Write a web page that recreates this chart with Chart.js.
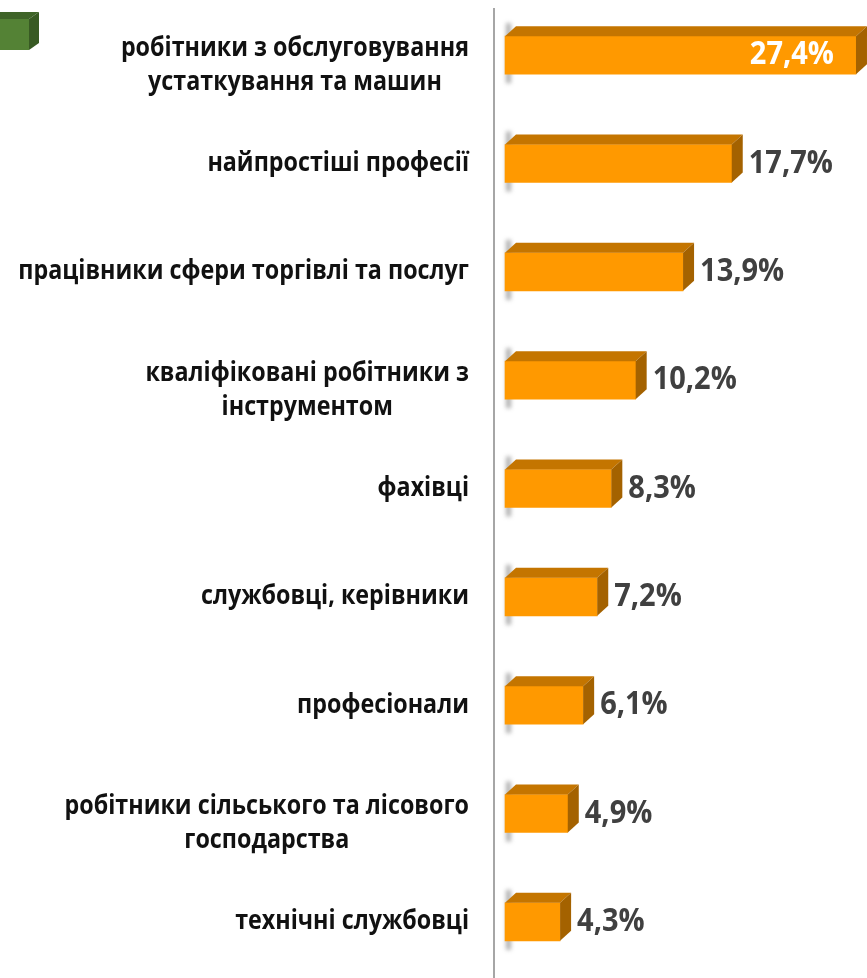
<!DOCTYPE html>
<html>
<head>
<meta charset="utf-8">
<script src="https://cdn.jsdelivr.net/npm/chart.js@4.4.1/dist/chart.umd.min.js"></script>
<style>
  html, body { margin: 0; padding: 0; background: #fff; }
  #wrap { width: 867px; height: 978px; position: relative; }
</style>
</head>
<body>
<div id="wrap"><canvas id="jobsChart"></canvas></div>
<script>
// categories (multi-line where the original wraps)
const categories = [
  ['робітники з обслуговування', 'устаткування та машин'],
  'найпростіші професії',
  'працівники сфери торгівлі та послуг',
  ['кваліфіковані робітники з', 'інструментом'],
  'фахівці',
  'службовці, керівники',
  'професіонали',
  ['робітники сільського та лісового', 'господарства'],
  'технічні службовці'
];
const shares = [27.4, 17.7, 13.9, 10.2, 8.3, 7.2, 6.1, 4.9, 4.3];

const FRONT = '#FF9900';
const TOP = '#C47500';
const SIDE = '#A46200';
const DX = 11, DY = 10;

const fmt = v => v.toFixed(1).replace('.', ',') + '%';

// text drawn a little taller than wide, as in the original picture
function tallText(ctx, txt, x, y, sy) {
  ctx.save();
  ctx.translate(x, y);
  ctx.scale(1, sy);
  ctx.fillText(txt, 0, 0);
  ctx.restore();
}

const bar3d = {
  id: 'bar3d',
  beforeDatasetsDraw(chart) {
    const ctx = chart.ctx;
    const meta = chart.getDatasetMeta(0);
    ctx.save();
    ctx.filter = 'blur(2px)';
    ctx.fillStyle = 'rgba(110,110,110,0.55)';
    meta.data.forEach(bar => {
      const p = bar.getProps(['base', 'y', 'height'], true);
      const top = p.y - p.height / 2;
      ctx.fillRect(p.base + 1, top - DY - 3, 5, p.height + DY + 12);
    });
    ctx.restore();
  },
  afterDatasetsDraw(chart) {
    const ctx = chart.ctx;
    const meta = chart.getDatasetMeta(0);
    ctx.save();
    meta.data.forEach(bar => {
      const p = bar.getProps(['x', 'base', 'y', 'height'], true);
      const top = p.y - p.height / 2, bottom = p.y + p.height / 2;
      ctx.fillStyle = TOP;
      ctx.beginPath();
      ctx.moveTo(p.base, top);
      ctx.lineTo(p.base + DX, top - DY);
      ctx.lineTo(p.x + DX, top - DY);
      ctx.lineTo(p.x, top);
      ctx.closePath();
      ctx.fill();
      ctx.fillStyle = SIDE;
      ctx.beginPath();
      ctx.moveTo(p.x, top);
      ctx.lineTo(p.x + DX, top - DY);
      ctx.lineTo(p.x + DX, bottom - DY);
      ctx.lineTo(p.x, bottom);
      ctx.closePath();
      ctx.fill();
    });
    ctx.restore();
  },
  afterDraw(chart) {
    const ctx = chart.ctx;
    const area = chart.chartArea;
    const yScale = chart.scales.y;
    const meta = chart.getDatasetMeta(0);
    ctx.save();

    // vertical axis line
    ctx.strokeStyle = '#A6A6A6';
    ctx.lineWidth = 2;
    ctx.beginPath();
    ctx.moveTo(area.left, 8);
    ctx.lineTo(area.left, chart.height);
    ctx.stroke();

    // category labels, right block, lines centered to each other
    ctx.font = 'bold 23.3px "Open Sans"';
    ctx.fillStyle = '#111111';
    ctx.textBaseline = 'middle';
    ctx.textAlign = 'center';
    const labelRight = area.left - 25;
    categories.forEach((cat, i) => {
      const lines = Array.isArray(cat) ? cat : [cat];
      const w = Math.max(...lines.map(l => ctx.measureText(l).width));
      const cx = labelRight - w / 2;
      const yc = yScale.getPixelForValue(i);
      const y0 = lines.length > 1 ? yc - 7 : yc;
      lines.forEach((l, k) => tallText(ctx, l, cx, y0 + k * 34, 1.15));
    });

    // value labels
    ctx.font = 'bold 29px "Open Sans"';
    meta.data.forEach((bar, i) => {
      const p = bar.getProps(['x', 'y'], true);
      if (i === 0) {
        ctx.fillStyle = '#FFFFFF';
        ctx.textAlign = 'right';
        tallText(ctx, fmt(shares[i]), p.x - 22, p.y, 1.1);
      } else {
        ctx.fillStyle = '#404040';
        ctx.textAlign = 'left';
        tallText(ctx, fmt(shares[i]), p.x + DX + 6, p.y, 1.1);
      }
    });

    // legend marker remnant (top-left green cube)
    ctx.fillStyle = '#548235';
    ctx.fillRect(0, 19, 29, 31);
    ctx.fillStyle = '#3F6428';
    ctx.beginPath();
    ctx.moveTo(0, 19); ctx.lineTo(0, 12); ctx.lineTo(39, 12); ctx.lineTo(29, 19);
    ctx.closePath(); ctx.fill();
    ctx.fillStyle = '#385A23';
    ctx.beginPath();
    ctx.moveTo(29, 19); ctx.lineTo(39, 12); ctx.lineTo(39, 43); ctx.lineTo(29, 50);
    ctx.closePath(); ctx.fill();

    ctx.restore();
  }
};

new Chart(document.getElementById('jobsChart'), {
  type: 'bar',
  data: {
    labels: categories,
    datasets: [{
      data: shares,
      backgroundColor: FRONT,
      borderWidth: 0,
      barThickness: 38
    }]
  },
  options: {
    indexAxis: 'y',
    responsive: true,
    maintainAspectRatio: false,
    animation: false,
    layout: { padding: { top: 1, bottom: 2, left: 0, right: 0 } },
    plugins: {
      legend: { display: false },
      tooltip: { enabled: false }
    },
    scales: {
      x: { display: false, min: -0.86, max: 28.26 },
      y: {
        ticks: { display: false },
        grid: { display: false },
        border: { display: false },
        afterFit(scale) { scale.width = 494; }
      }
    }
  },
  plugins: [bar3d]
});
</script>
</body>
</html>
